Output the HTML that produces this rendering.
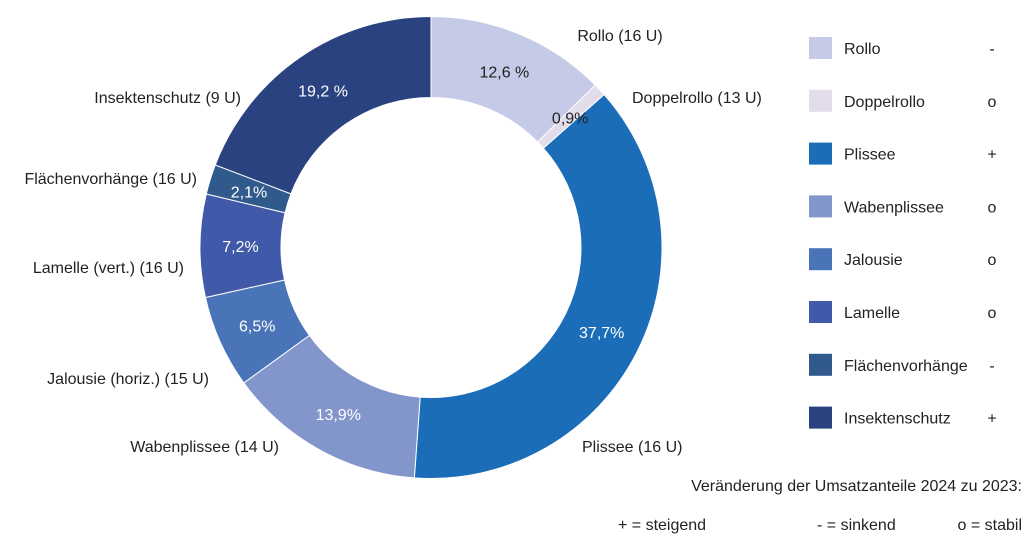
<!DOCTYPE html>
<html><head><meta charset="utf-8"><style>
body{margin:0;background:#fff;width:1024px;height:538px;overflow:hidden;font-family:"Liberation Sans",sans-serif}
svg{display:block}
text{font-family:"Liberation Sans",sans-serif;font-size:16px;fill:#222}
</style></head><body>
<svg id="chart" width="1024" height="538">
<g id="slices"></g>
<g id="pct"></g>
<g>
<text x="620" y="41" text-anchor="middle">Rollo (16 U)</text>
<text x="632" y="103">Doppelrollo (13 U)</text>
<text x="582" y="452">Plissee (16 U)</text>
<text x="279" y="452" text-anchor="end">Wabenplissee (14 U)</text>
<text x="209" y="384" text-anchor="end">Jalousie (horiz.) (15 U)</text>
<text x="184" y="273" text-anchor="end">Lamelle (vert.) (16 U)</text>
<text x="197" y="184" text-anchor="end">Flächenvorhänge (16 U)</text>
<text x="241" y="103" text-anchor="end">Insektenschutz (9 U)</text>
</g>
<g id="legend"></g>
<text x="1022" y="491" text-anchor="end">Veränderung der Umsatzanteile 2024 zu 2023:</text>
<text x="618" y="530">+ = steigend</text>
<text x="817" y="530">- = sinkend</text>
<text x="1022" y="530" text-anchor="end">o = stabil</text>
</svg>
<script>
const categories=["Rollo","Doppelrollo","Plissee","Wabenplissee","Jalousie","Lamelle","Flächenvorhänge","Insektenschutz"];
const values=[12.6,0.9,37.7,13.9,6.5,7.2,2.1,19.2];
const valueLabels=["12,6 %","0,9%","37,7%","13,9%","6,5%","7,2%","2,1%","19,2 %"];
const trends=["-","o","+","o","o","o","-","+"];
const colors=["#c5cbe6","#e3dcea","#1b6db8","#8296cc","#4a74b8","#4059a8","#305a8c","#2b4280"];
const NS="http://www.w3.org/2000/svg";
const cx=431,cy=247.5,R=231,r=150;
const total=values.reduce((a,b)=>a+b,0);
function pt(a,rad){return [cx+rad*Math.sin(a),cy-rad*Math.cos(a)];}
let acc=0;
const sg=document.getElementById('slices'),pg=document.getElementById('pct');
values.forEach((v,i)=>{
  const a0=acc/total*2*Math.PI;acc+=v;const a1=acc/total*2*Math.PI;
  const large=(a1-a0)>Math.PI?1:0;
  const p0=pt(a0,R),p1=pt(a1,R),q1=pt(a1,r),q0=pt(a0,r);
  const p=document.createElementNS(NS,'path');
  p.setAttribute('d',`M${p0}A${R},${R} 0 ${large} 1 ${p1}L${q1}A${r},${r} 0 ${large} 0 ${q0}Z`);
  p.setAttribute('fill',colors[i]);p.setAttribute('stroke','#fff');p.setAttribute('stroke-width','1');
  
  
  sg.appendChild(p);
  const m=pt((a0+a1)/2,(R+r)/2);
  const t=document.createElementNS(NS,'text');
  t.setAttribute('x',m[0]);t.setAttribute('y',m[1]+6);t.setAttribute('text-anchor','middle');
  t.setAttribute('fill',i<2?'#222':'#fff');t.style.fill=i<2?'#222':'#fff';
  t.textContent=valueLabels[i];
  
  
  pg.appendChild(t);
});
const lg=document.getElementById('legend');
categories.forEach((c,i)=>{
  const y=48+i*52.8;
  const g=document.createElementNS(NS,'g');
  
  
  const s=document.createElementNS(NS,'rect');
  s.setAttribute('x',809);s.setAttribute('y',y-11);s.setAttribute('width',23);s.setAttribute('height',22);s.setAttribute('fill',colors[i]);
  
  
  const t=document.createElementNS(NS,'text');
  t.setAttribute('x',844);t.setAttribute('y',y+6);t.textContent=c;
  
  
  const m=document.createElementNS(NS,'text');
  m.setAttribute('x',992);m.setAttribute('y',y+6);m.setAttribute('text-anchor','middle');m.textContent=trends[i];
  
  
  g.appendChild(s);g.appendChild(t);g.appendChild(m);lg.appendChild(g);
});
</script>
</body></html>
